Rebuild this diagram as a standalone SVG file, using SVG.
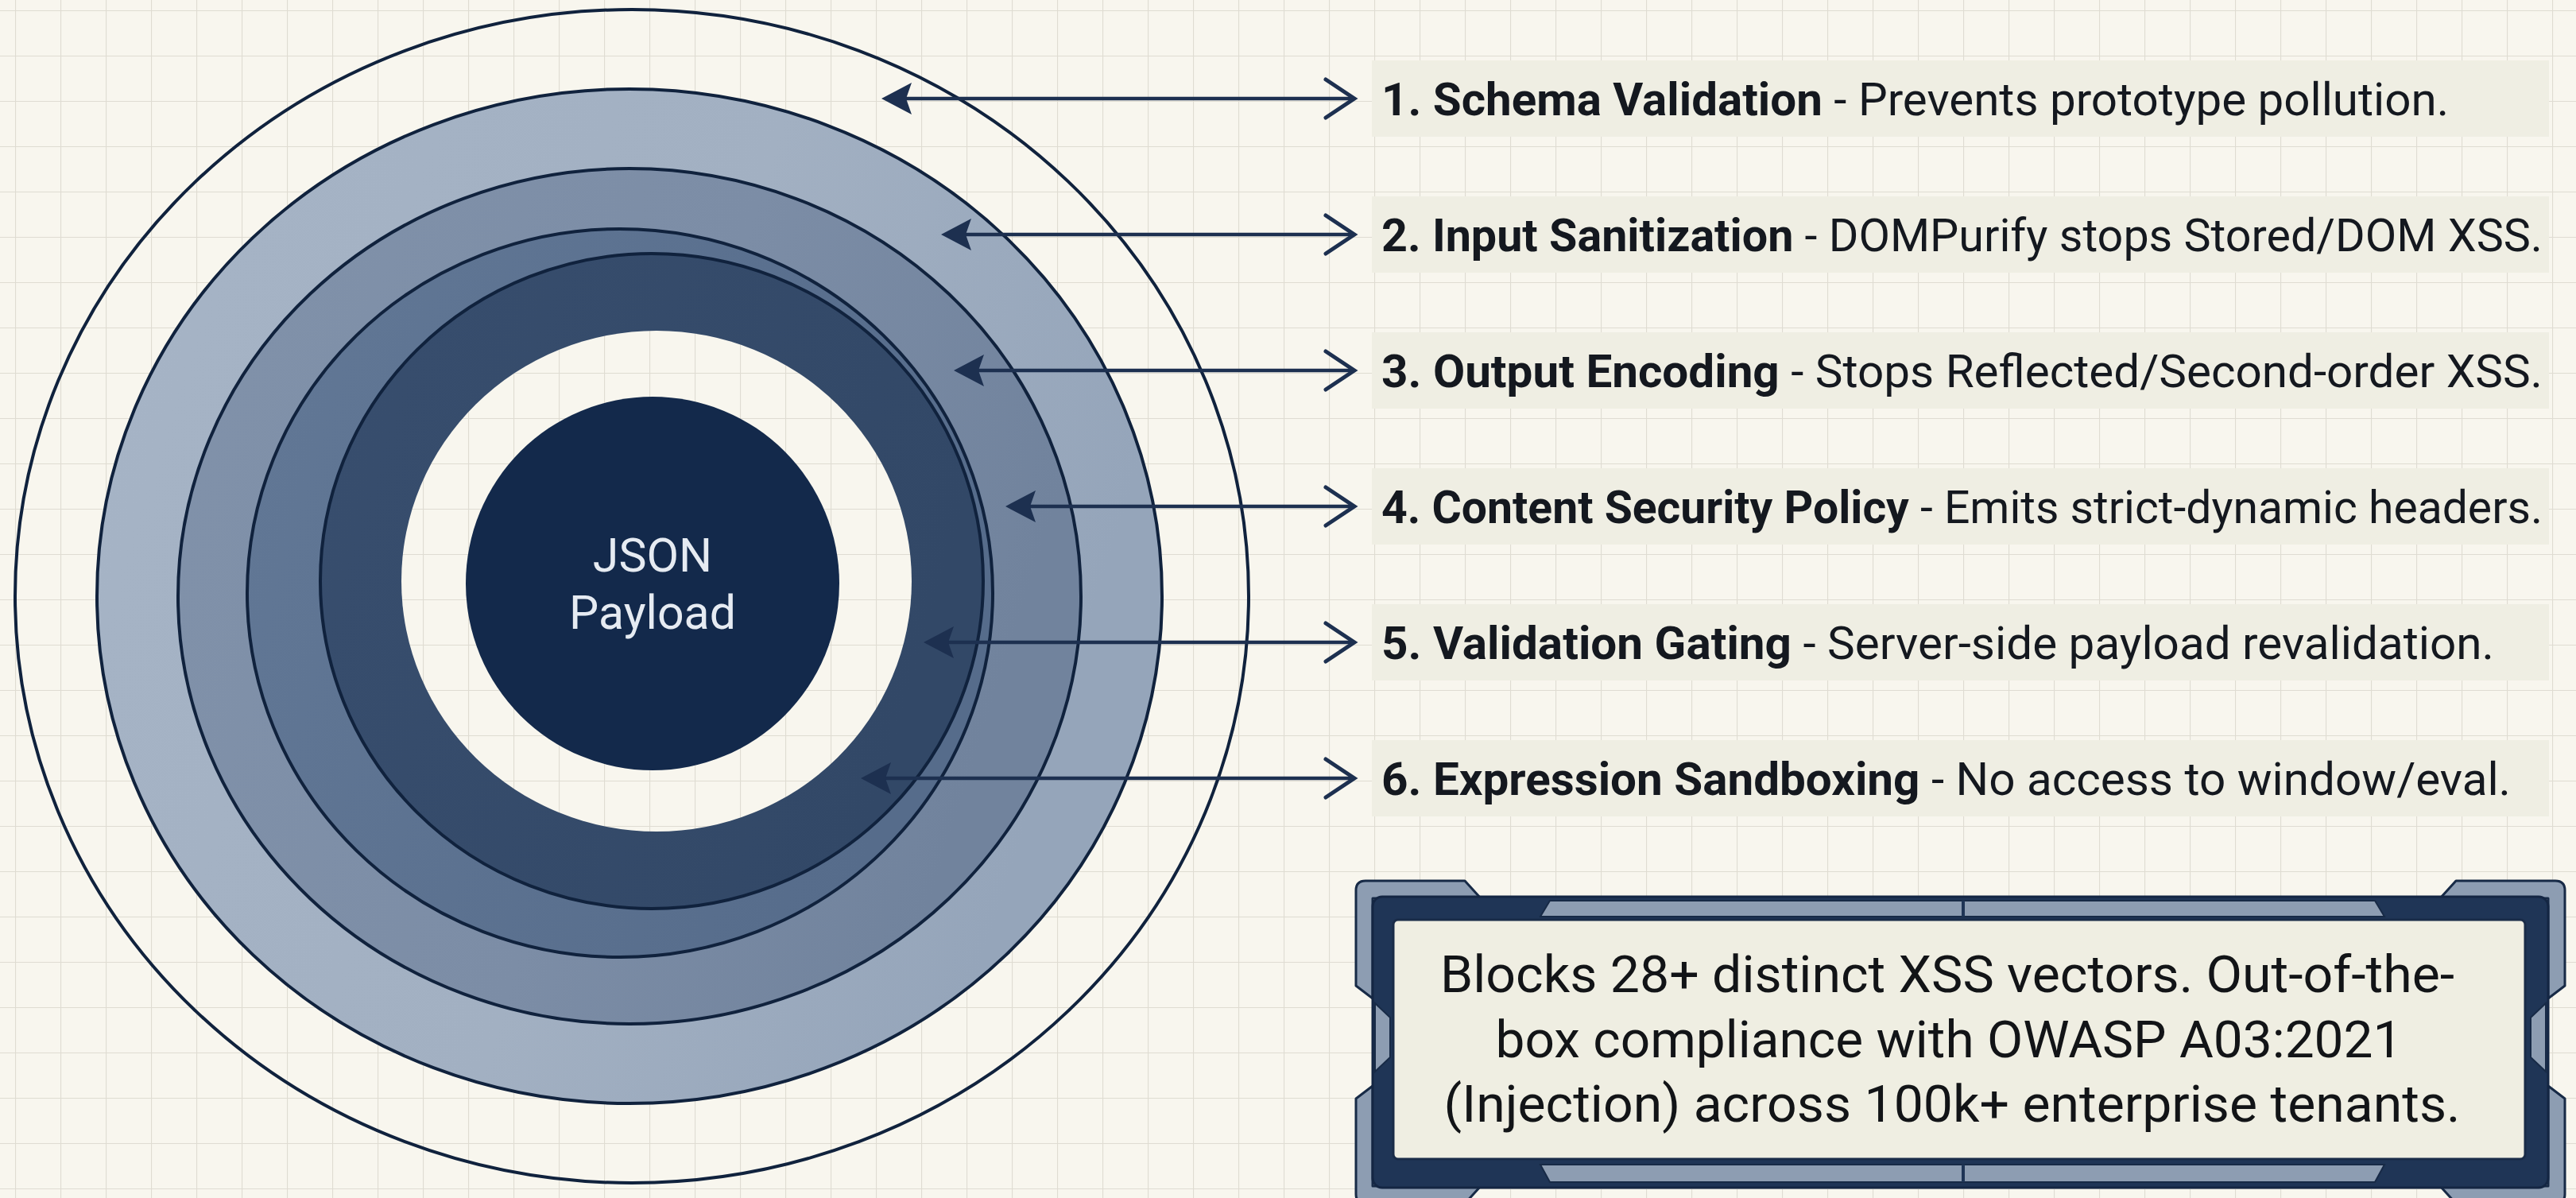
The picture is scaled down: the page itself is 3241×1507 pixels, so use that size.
<svg xmlns="http://www.w3.org/2000/svg" width="3241" height="1507" viewBox="0 0 3241 1507">
  <style>
    .edge { stroke: #10223d; stroke-width: 4; }
    .lbl { font-family: Roboto, "Liberation Sans", sans-serif; font-size: 58px; fill: #14181f; }
    .b { font-weight: 700; }
    .rowbg { fill: #efeee3; }
    .conn { stroke: #1d3050; stroke-width: 4.5; fill: none; }
    .box { font-family: Roboto, "Liberation Sans", sans-serif; font-size: 64px; fill: #121417; text-anchor: middle; }
    .bracket { fill: #8d9db2; stroke: #172a46; stroke-width: 3; stroke-linejoin: round; }
  </style>
  <defs>
    <pattern id="grid" x="19" y="13" width="57" height="57" patternUnits="userSpaceOnUse">
      <rect width="57" height="57" fill="#f8f6ee"/>
      <path d="M0 0 V57 M0 0 H57" stroke="#dfdcd2" stroke-width="2.2" fill="none"/>
    </pattern>
    <linearGradient id="g1" x1="0" y1="0" x2="1" y2="0.3">
      <stop offset="0" stop-color="#a6b4c6"/>
      <stop offset="0.6" stop-color="#a2b0c2"/>
      <stop offset="1" stop-color="#95a5ba"/>
    </linearGradient>
    <linearGradient id="g2" x1="0" y1="0" x2="1" y2="0.3">
      <stop offset="0" stop-color="#8192aa"/>
      <stop offset="0.6" stop-color="#7c8da6"/>
      <stop offset="1" stop-color="#71839d"/>
    </linearGradient>
    <linearGradient id="g3" x1="0" y1="0" x2="1" y2="0.3">
      <stop offset="0" stop-color="#627896"/>
      <stop offset="1" stop-color="#566c8b"/>
    </linearGradient>
    <linearGradient id="g4" x1="0" y1="0" x2="1" y2="0.3">
      <stop offset="0" stop-color="#384e6e"/>
      <stop offset="1" stop-color="#324867"/>
    </linearGradient>
    <marker id="headL" viewBox="0 0 40 40" refX="28" refY="20" markerWidth="40" markerHeight="40" markerUnits="userSpaceOnUse" orient="auto-start-reverse">
      <path d="M0 0 L38 20 L0 40 L7 20 Z" fill="#1d3050"/>
    </marker>
    <marker id="chev" viewBox="0 0 46 54" refX="40" refY="27" markerWidth="46" markerHeight="54" markerUnits="userSpaceOnUse" orient="auto">
      <path d="M4 3 L40 27 L4 51" fill="none" stroke="#1d3050" stroke-width="5" stroke-linecap="round" stroke-linejoin="miter"/>
    </marker>
  </defs>

  <rect width="3241" height="1507" fill="url(#grid)"/>

  <g id="rings">
    <g id="layer-outer"><ellipse cx="795" cy="750" rx="776" ry="738" fill="none" class="edge" stroke-width="4.5"/></g>
    <g id="layer-1"><ellipse cx="792" cy="750" rx="670" ry="638" fill="url(#g1)" class="edge"/></g>
    <g id="layer-2"><ellipse cx="792" cy="750" rx="568" ry="538" fill="url(#g2)" class="edge"/></g>
    <g id="layer-3"><ellipse cx="780" cy="746" rx="469" ry="458" fill="url(#g3)" class="edge"/></g>
    <g id="layer-4"><ellipse cx="820" cy="731" rx="417" ry="412" fill="url(#g4)" class="edge"/></g>
    <g id="hole"><ellipse cx="826" cy="731" rx="321" ry="315" fill="url(#grid)"/></g>
    <g id="payload">
      <circle cx="821" cy="734" r="235" fill="#13294b"/>
      <text x="821" y="719" font-family="Roboto, 'Liberation Sans', sans-serif" font-size="59" fill="#e6ebf2" text-anchor="middle">JSON</text>
      <text x="821" y="791" font-family="Roboto, 'Liberation Sans', sans-serif" font-size="59" fill="#e6ebf2" text-anchor="middle">Payload</text>
    </g>
  </g>

  <g id="connectors">
    <path class="conn" d="M1119 124 H1704" marker-start="url(#headL)" marker-end="url(#chev)"/>
    <path class="conn" d="M1194 295 H1704" marker-start="url(#headL)" marker-end="url(#chev)"/>
    <path class="conn" d="M1210 466 H1704" marker-start="url(#headL)" marker-end="url(#chev)"/>
    <path class="conn" d="M1275 637 H1704" marker-start="url(#headL)" marker-end="url(#chev)"/>
    <path class="conn" d="M1172 808 H1704" marker-start="url(#headL)" marker-end="url(#chev)"/>
    <path class="conn" d="M1093 979 H1704" marker-start="url(#headL)" marker-end="url(#chev)"/>
  </g>

  <g id="label-1">
    <rect class="rowbg" x="1726" y="76" width="1481" height="96"/>
    <text class="lbl" x="1738" y="145" textLength="1343" lengthAdjust="spacingAndGlyphs"><tspan class="b">1. Schema Validation</tspan> - Prevents prototype pollution.</text>
  </g>
  <g id="label-2">
    <rect class="rowbg" x="1726" y="247" width="1481" height="96"/>
    <text class="lbl" x="1738" y="316" textLength="1461" lengthAdjust="spacingAndGlyphs"><tspan class="b">2. Input Sanitization</tspan> - DOMPurify stops Stored/DOM XSS.</text>
  </g>
  <g id="label-3">
    <rect class="rowbg" x="1726" y="418" width="1481" height="96"/>
    <text class="lbl" x="1738" y="487" textLength="1461" lengthAdjust="spacingAndGlyphs"><tspan class="b">3. Output Encoding</tspan> - Stops Reflected/Second-order XSS.</text>
  </g>
  <g id="label-4">
    <rect class="rowbg" x="1726" y="589" width="1481" height="96"/>
    <text class="lbl" x="1738" y="658" textLength="1461" lengthAdjust="spacingAndGlyphs"><tspan class="b">4. Content Security Policy</tspan> - Emits strict-dynamic headers.</text>
  </g>
  <g id="label-5">
    <rect class="rowbg" x="1726" y="760" width="1481" height="96"/>
    <text class="lbl" x="1738" y="829" textLength="1400" lengthAdjust="spacingAndGlyphs"><tspan class="b">5. Validation Gating</tspan> - Server-side payload revalidation.</text>
  </g>
  <g id="label-6">
    <rect class="rowbg" x="1726" y="931" width="1481" height="96"/>
    <text class="lbl" x="1738" y="1000" textLength="1421" lengthAdjust="spacingAndGlyphs"><tspan class="b">6. Expression Sandboxing</tspan> - No access to window/eval.</text>
  </g>

  <g id="callout">
    <path class="bracket" d="M1727 1256 L1706 1240 L1706 1120 Q1706 1108 1718 1108 L1843 1108 L1863 1130 L1727 1130 Z"/>
    <path class="bracket" d="M3206 1256 L3227 1240 L3227 1120 Q3227 1108 3215 1108 L3090 1108 L3070 1130 L3206 1130 Z"/>
    <path class="bracket" d="M1727 1366 L1706 1382 L1706 1502 Q1706 1514 1718 1514 L1843 1514 L1863 1492 L1727 1492 Z"/>
    <path class="bracket" d="M3206 1366 L3227 1382 L3227 1502 Q3227 1514 3215 1514 L3090 1514 L3070 1492 L3206 1492 Z"/>
    <rect x="1727" y="1128" width="1479" height="366" rx="12" fill="#1f3556" stroke="#142643" stroke-width="3"/>
    <path d="M1950 1133 L2988 1133 L3000 1153 L1938 1153 Z" fill="#8d9db2" stroke="#172a46" stroke-width="2"/>
    <path d="M1938 1465 L3000 1465 L2988 1487 L1950 1487 Z" fill="#8d9db2" stroke="#172a46" stroke-width="2"/>
    <path d="M2470 1133 V1153 M2470 1465 V1487" stroke="#1f3556" stroke-width="4"/>
    <path d="M1730 1262 L1749 1280 L1749 1330 L1730 1348 Z" fill="#8d9db2" stroke="#172a46" stroke-width="2"/>
    <path d="M3203 1262 L3184 1280 L3184 1330 L3203 1348 Z" fill="#8d9db2" stroke="#172a46" stroke-width="2"/>
    <rect x="1753" y="1157" width="1424" height="301" rx="6" fill="#efeee2" stroke="#1a2c48" stroke-width="3"/>
    <text class="box" x="2450" y="1248" textLength="1276" lengthAdjust="spacingAndGlyphs">Blocks 28+ distinct XSS vectors. Out-of-the-</text>
    <text class="box" x="2452" y="1330" textLength="1141" lengthAdjust="spacingAndGlyphs">box compliance with OWASP A03:2021</text>
    <text class="box" x="2456" y="1411" textLength="1279" lengthAdjust="spacingAndGlyphs">(Injection) across 100k+ enterprise tenants.</text>
  </g>
</svg>
